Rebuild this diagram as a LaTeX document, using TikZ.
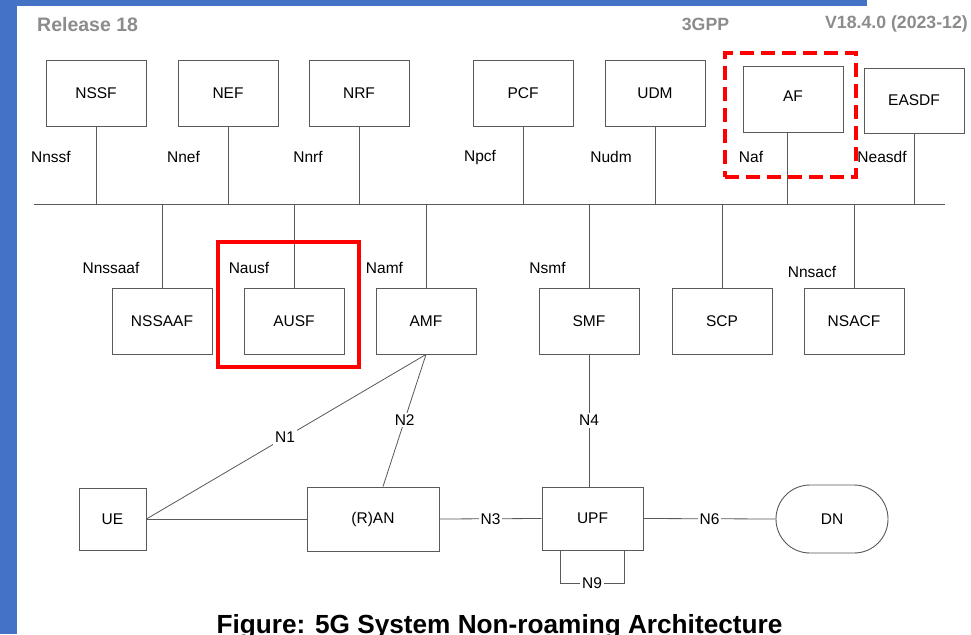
\documentclass[tikz,border=0pt]{standalone}
\usepackage{fontspec}
\setmainfont{Liberation Sans}
\definecolor{barblue}{HTML}{4472C4}
\definecolor{hdrgray}{HTML}{8C8C8C}
\definecolor{linegray}{HTML}{595959}
\definecolor{hlred}{HTML}{FF0000}
\begin{document}
\begin{tikzpicture}[x=1pt,y=-1pt,
  nf/.style={draw=linegray, line width=0.9pt, minimum width=100pt, minimum height=66pt, inner sep=0pt, font=\fontsize{15.5}{18}\selectfont},
  lbl/.style={inner sep=1pt, font=\fontsize{15.5}{18}\selectfont},
  ilbl/.style={lbl, fill=white, inner sep=2pt},
  conn/.style={draw=linegray, line width=0.8pt},
  hdr/.style={text=hdrgray, font=\fontsize{17.7}{20}\selectfont\bfseries, inner sep=0pt},
  redsolid/.style={draw=hlred, line width=4.5pt, inner sep=0pt},
  reddash/.style={draw=hlred, line width=4.5pt, dash pattern=on 14pt off 7pt, inner sep=0pt}
]
\useasboundingbox (0,0) rectangle (971,634);
\fill[white] (0,0) rectangle (971,634);
% blue frame bars
\fill[barblue] (0,0) rectangle (17,634);
\fill[barblue] (0,0) rectangle (867,6);
% header
\node[hdr, font=\fontsize{19.5}{22}\selectfont\bfseries, anchor=west] (rel) at (37,25) {Release 18};
\node[hdr] (gpp) at (705.5,24) {3GPP};
\node[hdr, anchor=east] (ver) at (968,24) {V18.4.0 (2023-12)};
% top NFs
\node[nf] (nssf) at (96,93) {NSSF};
\node[nf] (nef) at (228,93) {NEF};
\node[nf] (nrf) at (359,93) {NRF};
\node[nf] (pcf) at (523,93) {PCF};
\node[nf] (udm) at (655,93) {UDM};
\node[nf] (af) at (793,99) {\raisebox{6pt}{AF}};
\node[nf, minimum height=65pt] (easdf) at (914,100.5) {EASDF};
% bus
\coordinate (busL) at (34,204);
\coordinate (busR) at (945,204);
\draw[conn] (busL) -- (busR);
% bottom NFs
\node[nf] (nssaaf) at (162,321) {NSSAAF};
\node[nf] (ausf) at (294,321) {AUSF};
\node[nf] (amf) at (426,321) {AMF};
\node[nf] (smf) at (589,321) {SMF};
\node[nf] (scp) at (722,321) {SCP};
\node[nf] (nsacf) at (854,321) {NSACF};
% access / user plane
\node[nf, minimum width=67pt, minimum height=62pt] (ue) at (112.5,519) {UE};
\node[nf, minimum width=132pt, minimum height=64pt] (ran) at (373,519) {(R)AN};
\node[nf, minimum width=101pt, minimum height=63pt] (upf) at (592.5,518.5) {UPF};
\node[nf, minimum width=112pt, minimum height=68pt, rounded corners=33.9pt] (dn) at (832,519) {DN};
% service interfaces to bus
\draw[conn] (nssf.south) -- (nssf.south |- busL);
\draw[conn] (nef.south) -- (nef.south |- busL);
\draw[conn] (nrf.south) -- (nrf.south |- busL);
\draw[conn] (pcf.south) -- (pcf.south |- busL);
\draw[conn] (udm.south) -- (udm.south |- busL);
\draw[conn] ([xshift=-6pt]af.south) -- ([xshift=-6pt]af.south |- busL);
\draw[conn] (easdf.south) -- (easdf.south |- busL);
\draw[conn] (nssaaf.north) -- (nssaaf.north |- busL);
\draw[conn] (ausf.north) -- (ausf.north |- busL);
\draw[conn] (amf.north) -- (amf.north |- busL);
\draw[conn] (smf.north) -- (smf.north |- busL);
\draw[conn] (scp.north) -- (scp.north |- busL);
\draw[conn] (nsacf.north) -- (nsacf.north |- busL);
% service interface labels
\node[lbl] (lnssf) at (51,157) {Nnssf};
\node[lbl] (lnef) at (183.5,157) {Nnef};
\node[lbl] (lnrf) at (308,157) {Nnrf};
\node[lbl] (lnpcf) at (480,157) {Npcf};
\node[lbl] (lnudm) at (611,157) {Nudm};
\node[lbl] (lnaf) at (751,157) {Naf};
\node[lbl] (lneasdf) at (882,157) {Neasdf};
\node[lbl] (lnssaaf) at (111,268) {Nnssaaf};
\node[lbl] (lnausf) at (249,268) {Nausf};
\node[lbl] (lnamf) at (384.5,268) {Namf};
\node[lbl] (lnsmf) at (547.5,268) {Nsmf};
\node[lbl] (lnsacf) at (812,272) {Nnsacf};
% reference points
\draw[conn] (amf.south) -- node[ilbl, pos=0.504] (n1) {N1} (ue.east);
\draw[conn] (amf.south) -- node[ilbl, pos=0.496] (n2) {N2} ([xshift=10pt]ran.north);
\draw[conn] (ue.east) -- (ran.west);
\draw[conn] (ran.east) -- node[ilbl] (n3) {N3} (upf.west);
\draw[conn] (smf.south) -- node[ilbl] (n4) {N4} (smf.south |- upf.north);
\draw[conn] (upf.east) -- node[ilbl] (n6) {N6} (dn.west);
\draw[conn] ([xshift=-32.5pt]upf.south) -- ++(0,33) -| node[ilbl, pos=0.25] (n9) {N9} ([xshift=31.5pt]upf.south);
% highlight boxes
\node[reddash, minimum width=131pt, minimum height=124pt] (afhl) at (790.5,115) {};
\node[redsolid, minimum width=141pt, minimum height=125pt] (ausfhl) at (288.5,304.5) {};
% caption
\node[inner sep=0pt, anchor=base, font=\fontsize{26.2}{30}\selectfont\bfseries] (cap) at (499.5,633.5) {Figure: 5G System Non-roaming Architecture};
\end{tikzpicture}
\end{document}
